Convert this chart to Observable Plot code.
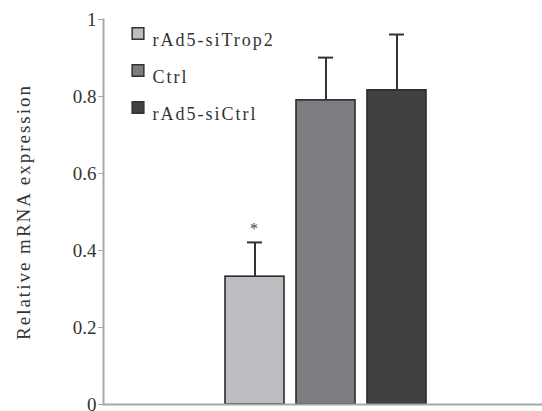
<!DOCTYPE html>
<html><head><meta charset="utf-8">
<script src="https://cdn.jsdelivr.net/npm/d3@7"></script>
<script src="https://cdn.jsdelivr.net/npm/@observablehq/plot@0.6"></script>
<style>
body{margin:0;background:#fff}
g[aria-label="text"] text{letter-spacing:2px}
</style>
</head><body><div id="chart"></div>
<script>
const groups = ["rAd5-siTrop2", "Ctrl", "rAd5-siCtrl"];
const values = [0.332, 0.790, 0.816];
const errors = [0.089, 0.111, 0.145];
const colors = ["#bcbdc1", "#7c7d81", "#404143"];
const marks = ["*", "", ""];
const yTicks = [0, 0.2, 0.4, 0.6, 0.8, 1];
const yTickLabels = ["0", "0.2", "0.4", "0.6", "0.8", "1"];
const yLabel = "Relative mRNA expression";

const data = groups.map((g, i) => ({g, v: values[i], e: values[i] + errors[i], c: colors[i], m: marks[i]}));

const legendMarks = groups.flatMap((g, i) => [
  Plot.dot([g], {frameAnchor: "top-left", dx: 34.5, dy: 14 + 37 * i, symbol: "square", r: 6.6, fill: colors[i], stroke: "#333", strokeWidth: 1.5}),
  Plot.text([g], {frameAnchor: "top-left", dx: 49, dy: 14 + 37 * i, text: d => d, textAnchor: "start", fontSize: 18, fill: "#333"})
]);

const chart = Plot.plot({
  width: 542, height: 411,
  marginLeft: 103, marginRight: 0, marginTop: 19, marginBottom: 7,
  style: {fontFamily: "'Liberation Serif', 'DejaVu Serif', serif", background: "#fff"},
  x: {domain: groups, range: [211, 439], padding: 0.17, axis: null},
  y: {domain: [0, 1], axis: null},
  marks: [
    Plot.frame({anchor: "left", stroke: "#a8a8a8", strokeWidth: 2}),
    Plot.axisY({ticks: yTicks, tickFormat: (d) => yTickLabels[yTicks.indexOf(d)], tickSize: 5, tickPadding: 2, stroke: "#a8a8a8", fill: "#333", fontSize: 19, label: null}),
    Plot.rectY(data, {x: "g", y: "v", fill: "c", stroke: "#2b2b2b", strokeWidth: 1.6}),
    Plot.ruleX(data, {x: "g", y1: "v", y2: "e", stroke: "#333", strokeWidth: 2}),
    Plot.tickY(data, {x: "g", y: "e", stroke: "#333", strokeWidth: 2, insetLeft: 22, insetRight: 22}),
    Plot.text(data, {x: "g", y: "e", text: "m", dy: -14, fontSize: 16, fill: "#444"}),
    Plot.ruleY([0], {stroke: "#a8a8a8", strokeWidth: 2}),
    Plot.text([yLabel], {frameAnchor: "left", dx: -80, rotate: -90, textAnchor: "middle", text: d => d, fontSize: 19, fill: "#333"}),
    ...legendMarks
  ]
});
document.getElementById("chart").append(chart);
</script>
</body></html>
